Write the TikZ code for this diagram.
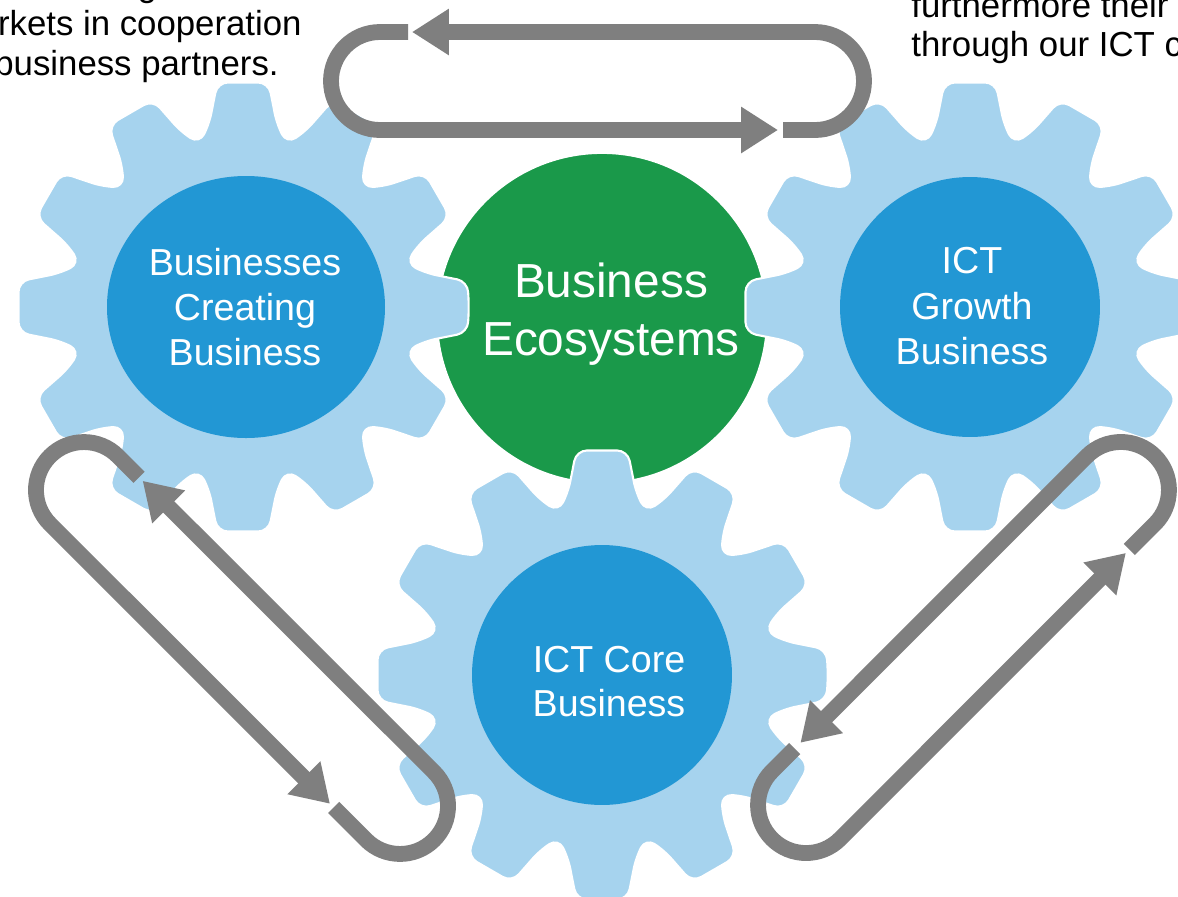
\documentclass[tikz,border=0pt]{standalone}
\usepackage{fontspec}
\setmainfont{Liberation Sans}
\usetikzlibrary{arrows.meta}
\definecolor{gearblue}{HTML}{A6D3EE}
\definecolor{coreblue}{HTML}{2297D4}
\definecolor{ecogreen}{HTML}{1A994A}
\definecolor{loopgray}{HTML}{7F7F7F}
\newcommand\gearpath[2]{%
  \begin{scope}[shift={(#1,#2)}]
    \path[gearstyle] (0:226) \foreach \a in {0,30,...,330}{
      -- (\a+6.5:226) -- (\a+10.5:186) -- (\a+15:169) -- (\a+19.5:186) -- (\a+23.5:226)} -- cycle;
  \end{scope}}
\begin{document}
\begin{tikzpicture}[x=0.02cm,y=-0.02cm,
  gearstyle/.style={fill=gearblue, draw=white, line width=1.2pt, rounded corners=6pt},
  corecircle/.style={fill=coreblue, draw=none, circle, minimum size=5.2cm, inner sep=0},
  loopline/.style={draw=loopgray, line width=9pt, -{Triangle[length=21pt,width=25pt]}},
  gtext/.style={text=white, font=\fontsize{21.4pt}{25.5pt}\selectfont, anchor=base, inner sep=0},
  etext/.style={text=white, font=\fontsize{27.2pt}{33pt}\selectfont, anchor=base, inner sep=0},
  ttext/.style={text=black, font=\fontsize{19.8pt}{23pt}\selectfont, inner sep=0}]
\useasboundingbox (0,0) rectangle (1178,897);
\clip (0,0) rectangle (1178,897);
\fill[white] (0,0) rectangle (1178,897);

% centre green circle
\node[circle, fill=ecogreen, draw=white, line width=1pt, minimum size=6.6cm, inner sep=0] (eco) at (602,318) {};

% gears
\gearpath{243}{307}
\gearpath{970}{307}
\gearpath{602}{675}

% inner circles
\fill[coreblue] (246,307) ellipse [x radius=139, y radius=131];
\coordinate (left) at (246,307);
\node[corecircle] (right) at (970,307) {};
\node[corecircle] (core) at (602,675) {};

% texts in circles
\node[gtext] (l1) at (245,275) {Businesses};
\node[gtext] (l2) at (245,320) {Creating};
\node[gtext] (l3) at (245,365) {Business};
\node[gtext] (r1) at (972,273) {ICT};
\node[gtext] (r2) at (972,319) {Growth};
\node[gtext] (r3) at (972,364) {Business};
\node[gtext] (b1) at (609,672) {ICT Core};
\node[gtext] (b2) at (609,716) {Business};
\node[etext] (e1) at (611,297) {Business};
\node[etext] (e2) at (611,355) {Ecosystems};

% top texts (cut by the frame)
\node[ttext, anchor=base west] (t0) at (33,-4) {creating new};
\node[ttext, anchor=base east] (t1) at (302,35) {markets in cooperation};
\node[ttext, anchor=base east] (t2) at (279,75) {with business partners.};
\node[ttext, anchor=base west] (u1) at (911,17) {furthermore their};
\node[ttext, anchor=base west] (u2) at (911,56) {through our ICT capabilities};

% top loop
\coordinate (tAs) at (783,130);
\coordinate (tAt) at (412,32);
\coordinate (tBs) at (408,32);
\coordinate (tBt) at (778,130);
\draw[loopline] (tAs) -- (815,130) arc[start angle=90, end angle=-90, radius=49] -- (tAt);
\draw[loopline] (tBs) -- (380,32) arc[start angle=-90, end angle=-270, radius=49] -- (tBt);

% left loop
\coordinate (lCs) at (139.1,477.3);
\coordinate (lCt) at (330.0,803.8);
\coordinate (lDs) at (333.6,807.4);
\coordinate (lDt) at (142.6,480.8);
\draw[loopline] (lCs) -- (117.9,456.1) arc[start angle=-45, end angle=-225, radius=48] -- (lCt);
\draw[loopline] (lDs) -- (366.1,839.9) arc[start angle=135, end angle=-45, radius=48] -- (lDt);

% right loop
\coordinate (rEs) at (1129.4,549.4);
\coordinate (rEt) at (800.4,742.8);
\coordinate (rFs) at (794.7,748.5);
\coordinate (rFt) at (1125.9,552.9);
\draw[loopline] (rEs) -- (1154.9,523.9) arc[start angle=45, end angle=-135, radius=48] -- (rEt);
\draw[loopline] (rFs) -- (772.1,771.1) arc[start angle=-135, end angle=-315, radius=48] -- (rFt);
\end{tikzpicture}
\end{document}
